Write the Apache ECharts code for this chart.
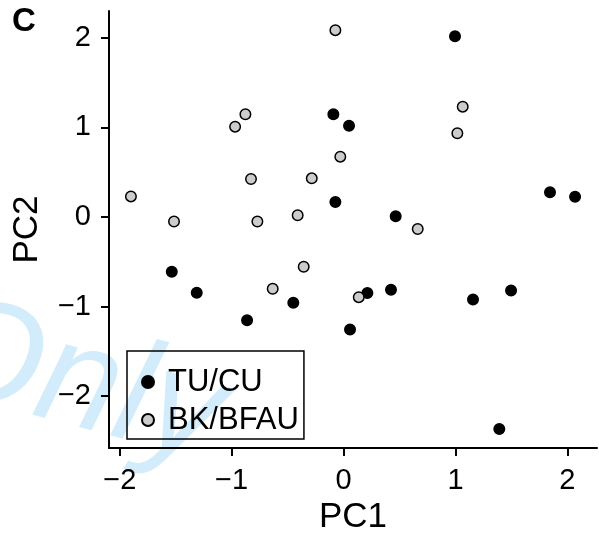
<!DOCTYPE html>
<html>
<head>
<meta charset="utf-8">
<script src="https://cdn.jsdelivr.net/npm/echarts@6/dist/echarts.min.js"></script>
<style>
  html, body { margin: 0; padding: 0; background: #fff; }
  #main { width: 599px; height: 536px; }
</style>
</head>
<body>
<div id="main"></div>
<script>
// TU/CU group (black dots)
const tuPC1 = [0.996, -0.091, 0.049, -0.073, 0.466, 1.845, 2.069, -1.535, -1.312, -0.862, -0.449, 0.058, 0.213, 0.424, 1.157, 1.497, 1.392]
const tuPC2 = [2.019, 1.147, 1.020, 0.168, 0.010, 0.276, 0.227, -0.610, -0.846, -1.151, -0.957, -1.255, -0.849, -0.812, -0.920, -0.819, -2.365]
// BK/BFAU group (grey dots)
const bkPC1 = [-1.900, -1.515, -0.969, -0.877, -0.827, -0.770, -0.073, -0.029, -0.284, -0.410, 0.663, -0.356, -0.633, 0.136, 1.065, 1.017]
const bkPC2 = [0.230, -0.050, 1.009, 1.147, 0.425, -0.050, 2.086, 0.674, 0.432, 0.020, -0.134, -0.555, -0.800, -0.894, 1.232, 0.935]
const ticks = [-2, -1, 0, 1, 2]

const font = 'Liberation Sans, Arial, sans-serif'
const zip = (xs, ys) => xs.map((x, i) => [x, ys[i]])
const minus = v => String(v).replace('-', '\u2212')

const axisCommon = {
  type: 'value',
  splitLine: { show: false },
  axisLine: { show: true, onZero: false, lineStyle: { color: '#000', width: 2 } },
  axisTick: { show: true, inside: false, length: 8, customValues: ticks, lineStyle: { color: '#000', width: 2 } },
  nameTextStyle: { fontSize: 35, color: '#000', fontFamily: font }
}

const chart = echarts.init(document.getElementById('main'))
chart.setOption({
  animation: false,
  backgroundColor: '#fff',
  grid: { left: 109, right: 2, top: 11, bottom: 88, outerBoundsMode: 'none', containLabel: false },
  xAxis: Object.assign({}, axisCommon, {
    min: -2.096, max: 2.265,
    name: 'PC1', nameLocation: 'middle', nameGap: 49,
    axisLabel: { customValues: ticks, formatter: minus, fontSize: 29, color: '#000', fontFamily: font, margin: 18 }
  }),
  yAxis: Object.assign({}, axisCommon, {
    min: -2.578, max: 2.30,
    name: 'PC2', nameLocation: 'middle', nameGap: 64,
    axisLabel: { customValues: ticks, formatter: minus, fontSize: 29, color: '#000', fontFamily: font, margin: 18 }
  }),
  legend: {
    orient: 'vertical',
    left: 127, top: 351,
    padding: [15, 5, 3, 14],
    itemGap: 6,
    itemWidth: 12, itemHeight: 12,
    borderColor: '#000', borderWidth: 1.5,
    textStyle: { fontSize: 31, lineHeight: 32, color: '#000', fontFamily: font, padding: [0, 0, 0, 9] },
    data: ['TU/CU', 'BK/BFAU']
  },
  graphic: [
    {
      type: 'text', left: 12, top: 5,
      style: { text: 'C', font: 'bold 33px ' + font, fill: '#000' }
    },
    {
      type: 'text', x: -50, y: 276, rotation: -0.26, z: -10,
      style: { text: 'Only', font: 'italic 145px ' + font, fill: '#d3ecfb' }
    }
  ],
  series: [
    {
      name: 'TU/CU', type: 'scatter', symbol: 'circle', symbolSize: 10.5,
      itemStyle: { color: '#000', borderColor: '#000', borderWidth: 1.5, opacity: 1 },
      data: zip(tuPC1, tuPC2)
    },
    {
      name: 'BK/BFAU', type: 'scatter', symbol: 'circle', symbolSize: 10.5,
      itemStyle: { color: '#cccccc', borderColor: '#000', borderWidth: 1.5, opacity: 1 },
      data: zip(bkPC1, bkPC2)
    }
  ]
})
</script>
</body>
</html>
